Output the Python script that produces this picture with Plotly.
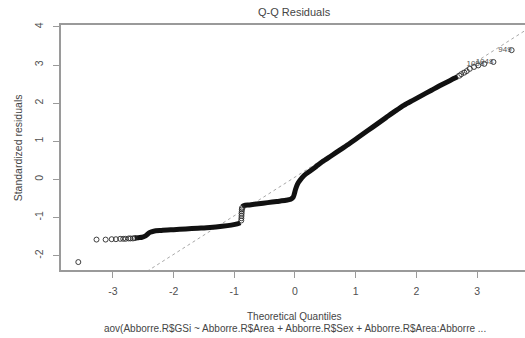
import plotly.graph_objects as go

# Normal Q-Q plot of standardized residuals from the aov model

# Lower tail: isolated observations left of the main band
low_q = [-3.57, -3.27, -3.12, -3.02, -2.95, -2.88, -2.83, -2.79, -2.74, -2.71, -2.67, -2.64]
low_r = [-2.17, -1.58, -1.58, -1.57, -1.57, -1.56, -1.56, -1.56, -1.55, -1.55, -1.55, -1.54]

# Dense band of residuals up to the step near q = -0.88
band1_q = [-2.64, -2.58, -2.52, -2.47, -2.43, -2.39, -2.33, -2.2, -2.0, -1.8,
           -1.6, -1.4, -1.2, -1.05, -0.95, -0.90]
band1_r = [-1.54, -1.53, -1.52, -1.49, -1.44, -1.39, -1.36, -1.34, -1.32, -1.30,
           -1.28, -1.26, -1.23, -1.20, -1.17, -1.14]

# Observations on the vertical step
step_q = [-0.885, -0.883, -0.881, -0.879, -0.877, -0.875, -0.873]
step_r = [-1.08, -1.02, -0.96, -0.90, -0.84, -0.79, -0.75]

# Dense band from the step up to the upper tail
band2_q = [-0.87, -0.84, -0.75, -0.6, -0.45, -0.3, -0.15, -0.07, -0.03, -0.01,
           0.01, 0.04, 0.08, 0.15, 0.25, 0.35, 0.45, 0.6, 0.75, 0.9,
           1.05, 1.2, 1.35, 1.5, 1.65, 1.8, 1.95, 2.1, 2.25, 2.4, 2.55, 2.68]
band2_r = [-0.72, -0.69, -0.67, -0.64, -0.61, -0.58, -0.55, -0.52, -0.47, -0.38,
           -0.26, -0.13, -0.03, 0.10, 0.22, 0.34, 0.46, 0.62, 0.78, 0.94,
           1.11, 1.28, 1.45, 1.62, 1.79, 1.95, 2.08, 2.21, 2.34, 2.47, 2.59, 2.69]

# Upper tail: isolated observations
high_q = [2.71, 2.74, 2.79, 2.83, 2.88, 2.95, 3.02, 3.12, 3.27, 3.57]
high_r = [2.72, 2.76, 2.80, 2.84, 2.90, 2.95, 2.99, 3.03, 3.08, 3.39]

# Three most extreme residuals and their observation numbers
id_q = [3.12, 3.27, 3.57]
id_r = [3.03, 3.08, 3.39]
id_labels = ["1098", "1048", "949"]

# Reference line through the first and third quartiles
quart_q = [-0.674, 0.674]
quart_r = [-0.624, 0.743]

x_ticks = [-3, -2, -1, 0, 1, 2, 3]
y_ticks = [-2, -1, 0, 1, 2, 3, 4]
x_range = [-3.855, 3.79]
y_range = [-2.378, 4.05]

FONT = "Liberation Sans, Arial, sans-serif"
TEXT = "#454545"
AXIS = "#9a9a9a"

slope = (quart_r[1] - quart_r[0]) / (quart_q[1] - quart_q[0])
intercept = quart_r[0] - slope * quart_q[0]
ref_x = [x_range[0], x_range[1]]
ref_y = [intercept + slope * v for v in ref_x]

fig = go.Figure()

fig.add_trace(go.Scatter(
    x=ref_x, y=ref_y, mode="lines",
    line=dict(color="#a8a8a8", width=1, dash="dot"),
    hoverinfo="skip", showlegend=False,
))

# Dense bands drawn as heavy strokes where circles overlap
fig.add_trace(go.Scatter(
    x=band1_q + [None] + band2_q, y=band1_r + [None] + band2_r,
    mode="lines", line=dict(color="#111111", width=5, shape="spline", smoothing=0.8),
    showlegend=False,
))

fig.add_trace(go.Scatter(
    x=low_q + step_q + high_q, y=low_r + step_r + high_r,
    mode="markers",
    marker=dict(symbol="circle-open", size=5, color="#2a2a2a", line=dict(width=0.9)),
    showlegend=False,
))

fig.add_trace(go.Scatter(
    x=id_q, y=id_r, mode="text", text=id_labels,
    textposition="middle left",
    textfont=dict(family=FONT, size=8, color="#555555"),
    showlegend=False, hoverinfo="skip",
))

fig.update_layout(
    width=525, height=338,
    margin=dict(l=61, r=0, t=25, b=68),
    paper_bgcolor="white", plot_bgcolor="white",
    font=dict(family=FONT, color=TEXT, size=10.5),
    xaxis=dict(
        range=x_range, tickvals=x_ticks, ticktext=[str(v) for v in x_ticks],
        showgrid=False, zeroline=False,
        showline=True, linecolor=AXIS, linewidth=1.5, mirror=True,
        ticks="outside", ticklen=6, tickcolor=AXIS, tickwidth=1,
        tickfont=dict(family=FONT, size=10.5, color="#505050"),
        ticklabelstandoff=5,
    ),
    yaxis=dict(
        range=y_range, tickvals=y_ticks, ticktext=[str(v) for v in y_ticks],
        showgrid=False, zeroline=False,
        showline=True, linecolor=AXIS, linewidth=1.5,
        ticks="outside", ticklen=6, tickcolor=AXIS, tickwidth=1,
        tickangle=-90,
        tickfont=dict(family=FONT, size=10.5, color="#505050"),
        ticklabelstandoff=6,
    ),
    annotations=[
        dict(text="Q-Q Residuals", xref="paper", yref="paper",
             x=0.504, y=1.053, showarrow=False, xanchor="center", yanchor="middle",
             font=dict(family=FONT, size=11, color=TEXT)),
        dict(text="Standardized residuals", xref="paper", yref="paper",
             x=-0.093, y=0.50, showarrow=False, xanchor="center", yanchor="middle",
             textangle=-90, font=dict(family=FONT, size=10.5, color=TEXT)),
        dict(text="Theoretical Quantiles", xref="paper", yref="paper",
             x=0.504, y=-0.188, showarrow=False, xanchor="center", yanchor="middle",
             font=dict(family=FONT, size=10, color=TEXT)),
        dict(text="aov(Abborre.R$GSi ~ Abborre.R$Area + Abborre.R$Sex + Abborre.R$Area:Abborre ...",
             xref="paper", yref="paper",
             x=0.504, y=-0.237, showarrow=False, xanchor="center", yanchor="middle",
             font=dict(family=FONT, size=10, color=TEXT)),
    ],
)

fig.write_html("out.html")
